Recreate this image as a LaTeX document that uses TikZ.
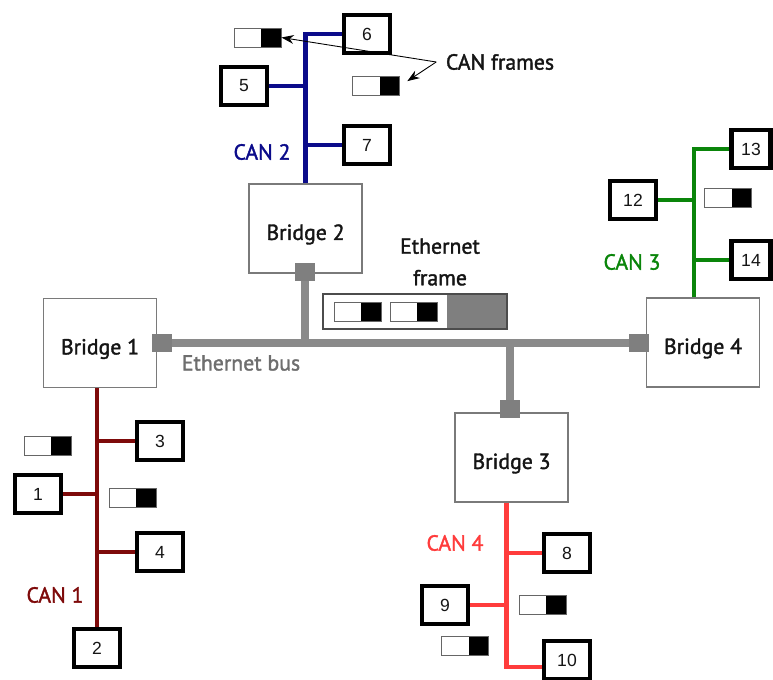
\documentclass[tikz,border=0pt]{standalone}
\usepackage{fontspec}
\setmainfont{PT Sans}[FakeBold=1.6]
\newfontfamily\numfont{Liberation Sans}
\usetikzlibrary{arrows.meta,calc,positioning}
\definecolor{CanBlue}{HTML}{0B0B8A}
\definecolor{CanMaroon}{HTML}{7E0A0A}
\definecolor{CanRed}{HTML}{FF3C3C}
\definecolor{CanGreen}{HTML}{0A850A}
\definecolor{EthGray}{HTML}{8A8A8A}
\definecolor{PortGray}{HTML}{7F7F7F}
\definecolor{BoxGray}{HTML}{7A7A7A}
\definecolor{Ink}{HTML}{151515}

\begin{document}
\begin{tikzpicture}[x=0.02cm,y=-0.02cm,
    every node/.style={font=\fontsize{12.4}{14}\selectfont,text=Ink},
    bridge/.style={draw=BoxGray,fill=white,line width=0.6pt,minimum width=2.26cm,minimum height=1.78cm,inner sep=0pt,text height=15pt,text depth=2pt},
    port/.style={fill=PortGray,minimum width=0.4cm,minimum height=0.36cm,inner sep=0pt},
    ecu/.style={draw=black,fill=white,line width=2.3pt,minimum width=0.92cm,minimum height=0.76cm,inner sep=0pt,font=\numfont\fontsize{10}{12}\selectfont},
    canframe/.style={draw=black!60,fill=white,line width=0.5pt,minimum width=0.94cm,minimum height=0.38cm,inner sep=0pt,
      path picture={\fill[black] (path picture bounding box.north east) rectangle ([xshift=-0.4cm]path picture bounding box.south west -| path picture bounding box.south east);}},
    ethframe/.style={draw=black!70,fill=white,line width=0.6pt,minimum width=3.68cm,minimum height=0.7cm,inner sep=0pt,
      path picture={\fill[PortGray] (path picture bounding box.north east) rectangle ([xshift=-1.2cm]path picture bounding box.south east);}},
    ethbus/.style={EthGray,line width=4.5pt},
    canbus/.style={line width=2.3pt}]
    \useasboundingbox (0,0) rectangle (773,679);
    \clip (0,0) rectangle (773,679);
    % bridges and ethernet ports
    \node[bridge] (br1) at (100,343) {Bridge 1};
    \node[bridge] (br2) at (305.5,228.5) {Bridge 2};
    \node[bridge] (br3) at (511.5,457.5) {Bridge 3};
    \node[bridge] (br4) at (703,342.5) {Bridge 4};
    \node[port] (p1) at (162,343) {};
    \node[port] (p2) at (305,272) {};
    \node[port] (p3) at (510,409) {};
    \node[port] (p4) at (639,343) {};
    \draw[ethbus] (p1.east) -- (p4.west);
    \draw[ethbus] (p2.south) -- (p2.south |- p1);
    \draw[ethbus] (p3.north) -- (p3.north |- p1);
    \node[text=BoxGray!90!black] (lbus) at (241,363) {Ethernet bus};
    % ethernet frame
    \node[ethframe] (eframe) at (415,311.5) {};
    \node[canframe] (ef1) at (357.5,312) {};
    \node[canframe] (ef2) at (413.5,312) {};
    \node[align=center] (lframe) at (440,262) {Ethernet\\[4pt]frame};
    % CAN nodes
    \node[ecu] (n1) at (38,494) {1};
    \node[ecu] (n2) at (97,648) {2};
    \node[ecu] (n3) at (160,441) {3};
    \node[ecu] (n4) at (160,552) {4};
    \node[ecu] (n5) at (244,86) {5};
    \node[ecu] (n6) at (367,34) {6};
    \node[ecu] (n7) at (367,145) {7};
    \node[ecu] (n8) at (567,553) {8};
    \node[ecu] (n9) at (445,605) {9};
    \node[ecu] (n10) at (567,660) {10};
    \node[ecu] (n12) at (633,200) {12};
    \node[ecu,minimum width=0.78cm] (n13) at (751,149) {13};
    \node[ecu,minimum width=0.78cm] (n14) at (751,260) {14};
    % CAN 1
    \draw[canbus,CanMaroon] (n2.north |- br1.south) -- (n2.north);
    \draw[canbus,CanMaroon] (n1.east) -- (n1.east -| n2.north);
    \draw[canbus,CanMaroon] (n3.west) -- (n3.west -| n2.north);
    \draw[canbus,CanMaroon] (n4.west) -- (n4.west -| n2.north);
    \node[text=CanMaroon] (lcan1) at (55,595) {CAN 1};
    % CAN 2
    \draw[canbus,CanBlue] (br2.north) |- (n6.west);
    \draw[canbus,CanBlue] (n5.east) -- (n5.east -| br2.north);
    \draw[canbus,CanBlue] (n7.west) -- (n7.west -| br2.north);
    \node[text=CanBlue] (lcan2) at (262,152) {CAN 2};
    % CAN 3
    \coordinate (can3) at ([xshift=-0.18cm]br4.north);
    \draw[canbus,CanGreen] (can3) |- (n13.west);
    \draw[canbus,CanGreen] (n12.east) -- (n12.east -| can3);
    \draw[canbus,CanGreen] (n14.west) -- (n14.west -| can3);
    \node[text=CanGreen] (lcan3) at (632,262) {CAN 3};
    % CAN 4
    \coordinate (can4) at ([xshift=-0.1cm]br3.south);
    \draw[canbus,CanRed] (can4) |- ([yshift=-0.14cm]n10.west);
    \draw[canbus,CanRed] (n8.west) -- (n8.west -| can4);
    \draw[canbus,CanRed] (n9.east) -- (n9.east -| can4);
    \node[text=CanRed] (lcan4) at (455,543) {CAN 4};
    % CAN frames on the buses
    \node[canframe] (fr1) at (257.5,37.5) {};
    \node[canframe] (fr2) at (376,86) {};
    \node[canframe] (fr3) at (47.5,445.5) {};
    \node[canframe] (fr4) at (132.5,497.5) {};
    \node[canframe] (fr5) at (542.5,605) {};
    \node[canframe] (fr6) at (465,645.5) {};
    \node[canframe] (fr7) at (728,197.5) {};
    \node (lcf) at (500,62) {CAN frames};
    \draw[-{Stealth[length=7pt,width=5pt]},line width=0.5pt] ([xshift=-2pt]lcf.west) -- (fr1.east);
    \draw[-{Stealth[length=7pt,width=5pt]},line width=0.5pt,shorten >=5pt] ([xshift=-2pt]lcf.west) -- (fr2.east);
  \end{tikzpicture}
\end{document}
